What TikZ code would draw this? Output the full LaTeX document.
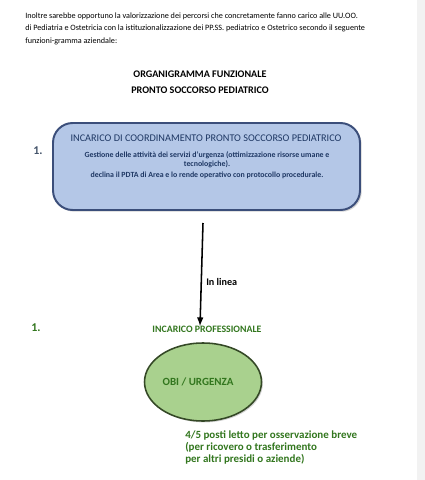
\documentclass[tikz,border=0pt]{standalone}
\usepackage{fontspec}
\setmainfont{Carlito}
\usepackage{xcolor}
\usetikzlibrary{arrows}
\usetikzlibrary{shadows, shapes.geometric}

\definecolor{boxfill}{RGB}{180,199,231}
\definecolor{boxline}{RGB}{59,78,122}
\definecolor{boxtext}{RGB}{31,56,100}
\definecolor{numblue}{RGB}{68,84,106}
\definecolor{txtgreen}{RGB}{50,118,30}
\definecolor{ellfill}{RGB}{169,209,142}
\definecolor{ellline}{RGB}{52,72,38}
\definecolor{pagegrey}{RGB}{242,242,242}

\tikzset{
  intro/.style={anchor=west, inner sep=0, font=\fontsize{5.8}{8.9}\selectfont},
  titolo/.style={inner sep=0, font=\fontsize{7.2}{9}\selectfont\bfseries},
  numero/.style={inner sep=0, font=\fontsize{8.5}{10}\selectfont\bfseries},
  verde/.style={text=txtgreen, font=\fontsize{7.0}{8}\selectfont\bfseries},
}

\begin{document}
\begin{tikzpicture}[x=0.025cm, y=-0.025cm]
\useasboundingbox (0,0) rectangle (425,480);
\fill[pagegrey] (417,0) rectangle (425,480);

% testo introduttivo
\node[intro] (intro1) at (25,16) {Inoltre sarebbe opportuno la valorizzazione dei percorsi che concretamente fanno carico alle UU.OO.};
\node[intro] (intro2) at (25,28.5) {di Pediatria e Ostetricia con la istituzionalizzazione dei PP.SS. pediatrico e Ostetrico secondo il seguente};
\node[intro] (intro3) at (25,41) {funzioni-gramma aziendale:};

\node[titolo] (tit1) at (200,74) {ORGANIGRAMMA FUNZIONALE};
\node[titolo] (tit2) at (200,90) {PRONTO SOCCORSO PEDIATRICO};

% coordinamento
\draw[boxline, line width=1.4, fill=boxfill, rounded corners=14,
  drop shadow={shadow xshift=1.2pt, shadow yshift=-1.2pt, opacity=0.35}]
  (53,123) rectangle (360,210);
\node[numero, text=numblue] (num1) at (38,151) {1.};
\node[inner sep=0, text=boxtext, font=\fontsize{7.3}{8}\selectfont] (coord) at (206,138)
  {INCARICO DI COORDINAMENTO PRONTO SOCCORSO PEDIATRICO};
\node[inner sep=0, text=boxtext, align=center, font=\fontsize{5.6}{6.4}\selectfont\bfseries] (gest) at (207,160)
  {Gestione delle attività dei servizi d’urgenza (ottimizzazione risorse umane e\\tecnologiche).};
\node[inner sep=0, text=boxtext, font=\fontsize{5.6}{6.4}\selectfont\bfseries] (decl) at (207,175)
  {declina il PDTA di Area e lo rende operativo con protocollo procedurale.};

% collegamento
\coordinate (arrtop) at (203,223);
\coordinate (arrend) at (200,326);
\draw[-latex, line width=1.1] (arrtop) -- (arrend);
\node[inner sep=0, anchor=west, font=\fontsize{7.2}{8}\selectfont\bfseries] (linea) at (206,282) {In linea};

% incarico professionale
\node[numero, text=txtgreen] (num2) at (36,328) {1.};
\node[verde, inner sep=0] (prof) at (207,329) {INCARICO PROFESSIONALE};
\node[ellipse, draw=ellline, line width=1.1, fill=ellfill, minimum width=117*0.025cm, minimum height=78*0.025cm,
  drop shadow={shadow xshift=1pt, shadow yshift=-1pt, opacity=0.35}] (obi) at (203,382) {};
\node[verde, inner sep=0, font=\fontsize{7.8}{8}\selectfont\bfseries] (obitxt) at (198,382) {OBI / URGENZA};
\node[verde, inner sep=0, anchor=north west, align=left, font=\fontsize{7.8}{8.2}\selectfont\bfseries] (posti) at (185,431)
  {4/5 posti letto per osservazione breve\\(per ricovero o trasferimento\\per altri presidi o aziende)};
\end{tikzpicture}
\end{document}
